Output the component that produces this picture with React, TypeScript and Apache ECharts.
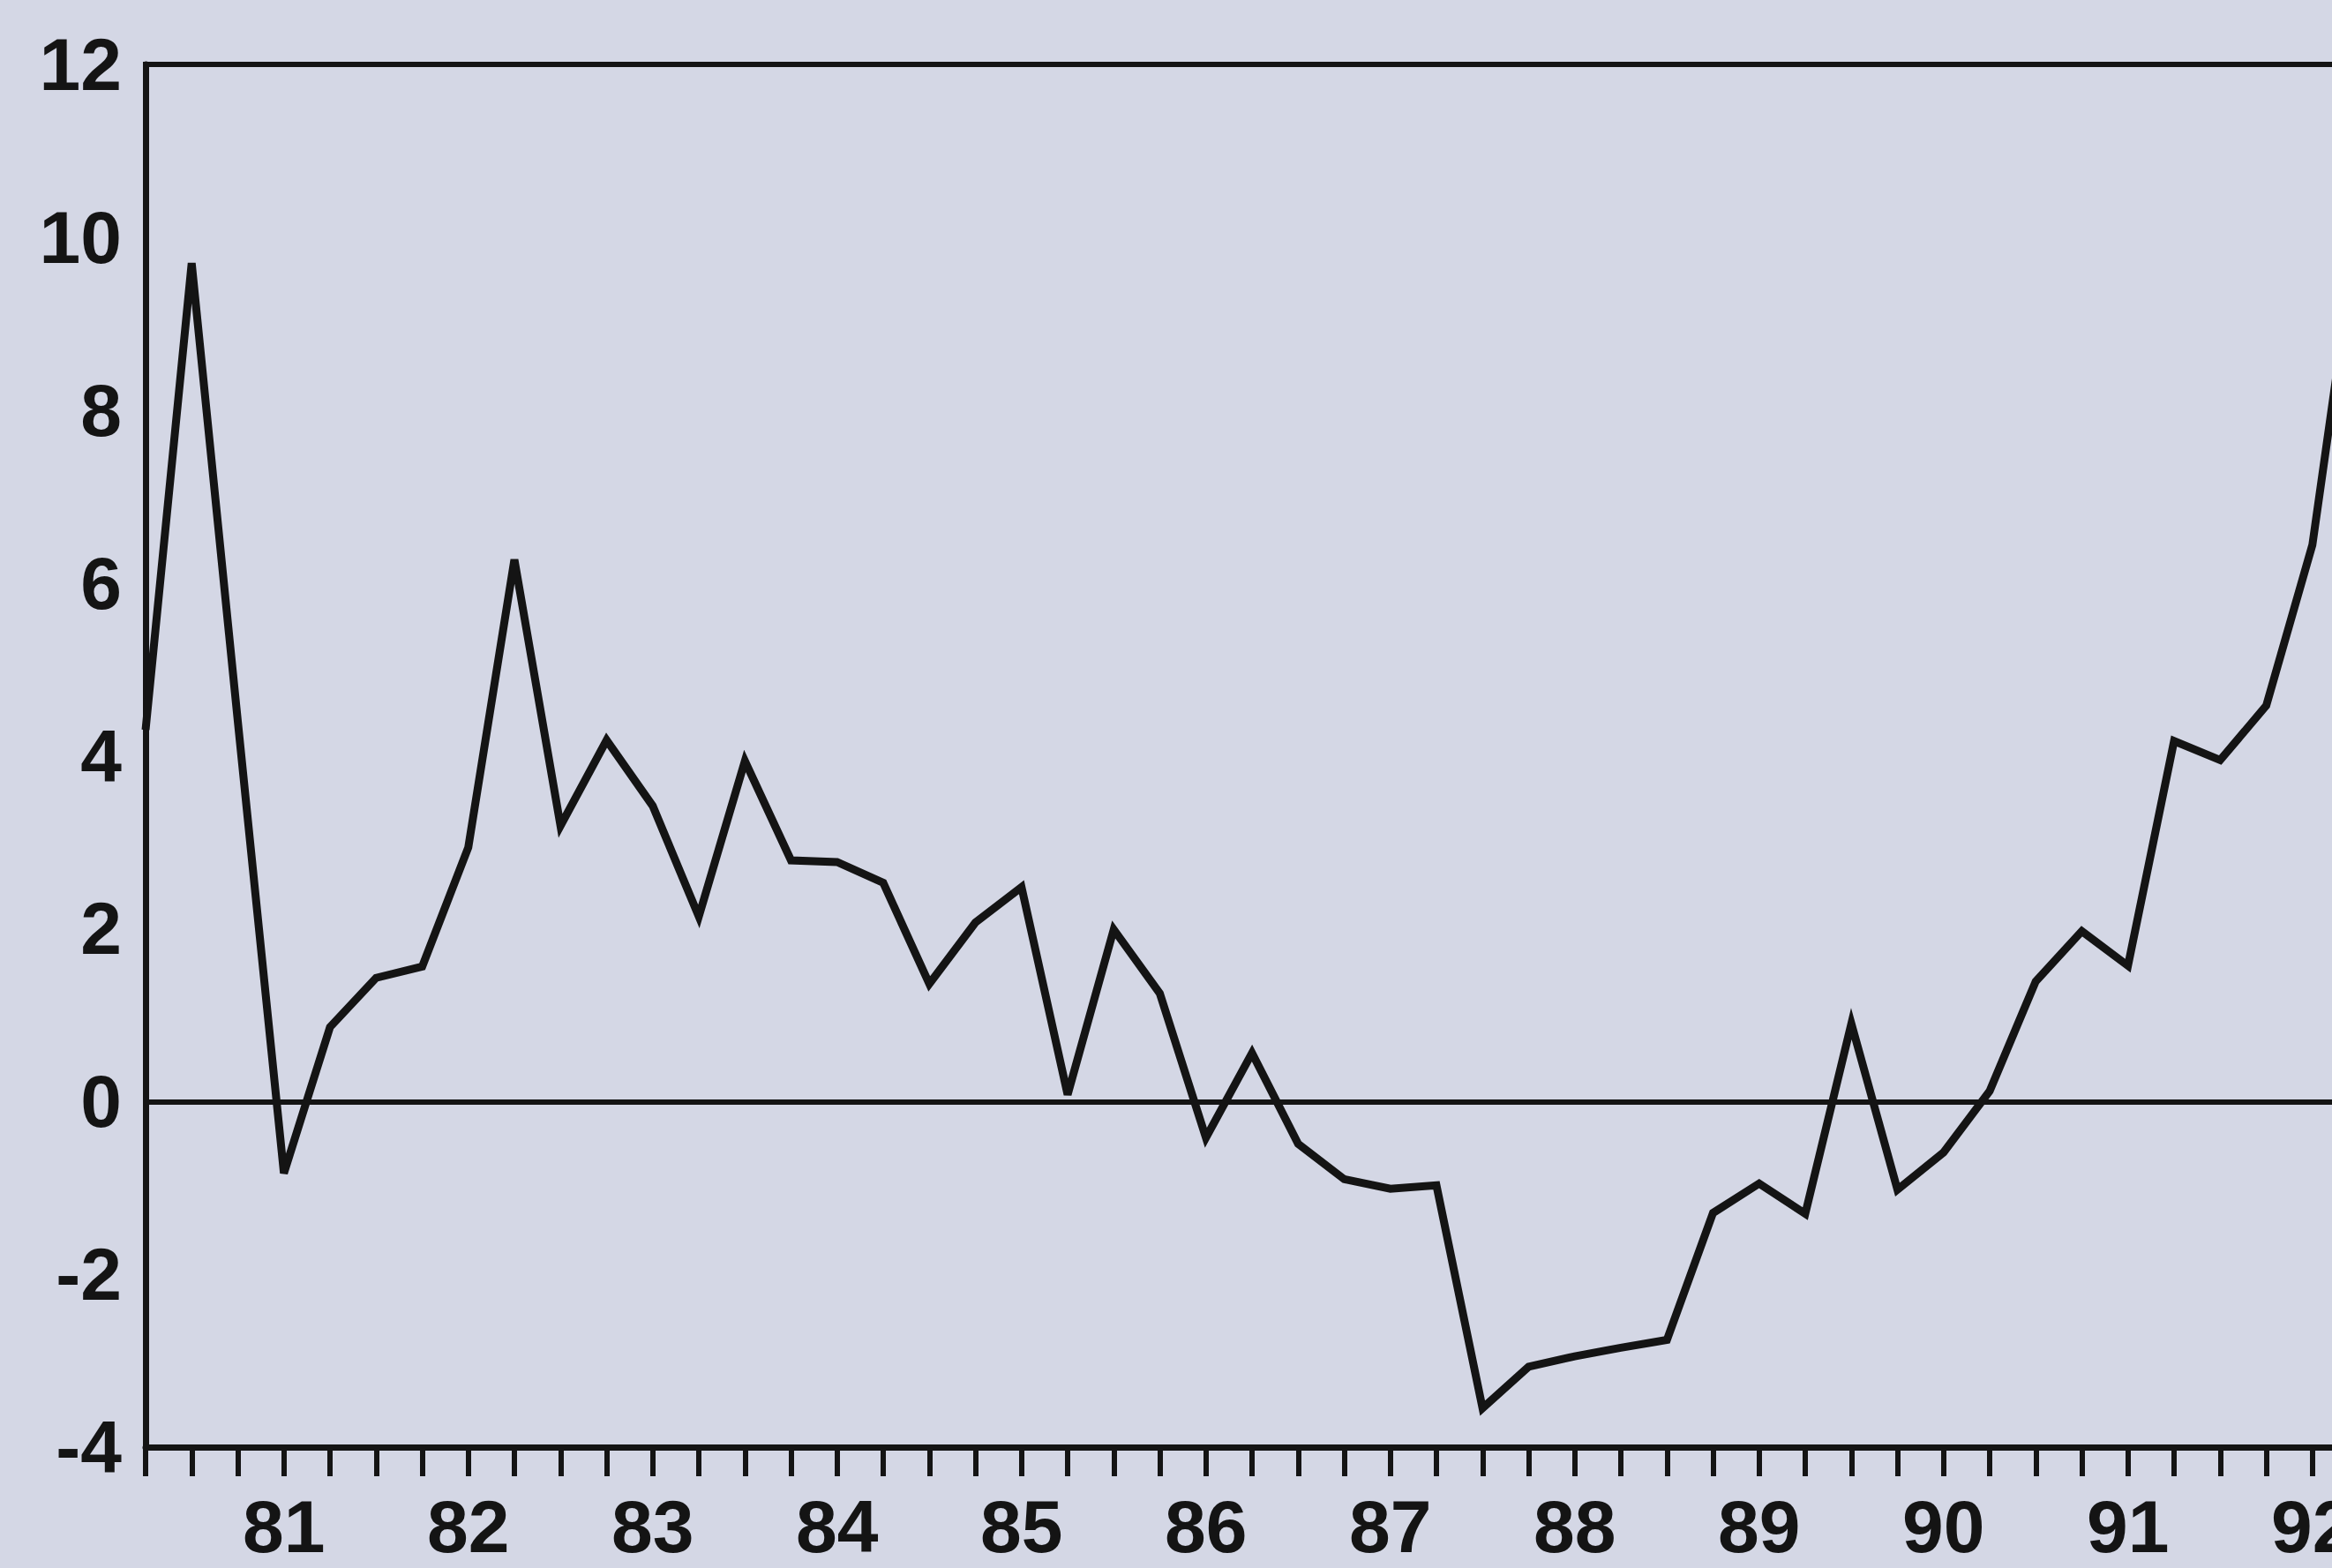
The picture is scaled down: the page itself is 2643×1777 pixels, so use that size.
import React, { useEffect, useRef } from "react";
import * as echarts from "echarts";

// Quarterly categories (first point = 80Q2, year label shown at each Q1)
const quarters: string[] = [
  "80Q2", "80Q3", "80Q4",
  "81Q1", "81Q2", "81Q3", "81Q4",
  "82Q1", "82Q2", "82Q3", "82Q4",
  "83Q1", "83Q2", "83Q3", "83Q4",
  "84Q1", "84Q2", "84Q3", "84Q4",
  "85Q1", "85Q2", "85Q3", "85Q4",
  "86Q1", "86Q2", "86Q3", "86Q4",
  "87Q1", "87Q2", "87Q3", "87Q4",
  "88Q1", "88Q2", "88Q3", "88Q4",
  "89Q1", "89Q2", "89Q3", "89Q4",
  "90Q1", "90Q2", "90Q3", "90Q4",
  "91Q1", "91Q2", "91Q3", "91Q4",
  "92Q1", "92Q2",
];

const values: number[] = [
  4.3, 9.7, 4.4,
  -0.83, 0.86, 1.43, 1.56,
  2.94, 6.27, 3.19, 4.18,
  3.42, 2.14, 3.94, 2.79,
  2.77, 2.53, 1.36, 2.07,
  2.48, 0.08, 1.99, 1.25,
  -0.42, 0.56, -0.49, -0.9,
  -1.01, -0.97, -3.55, -3.07,
  -2.95, -2.85, -2.76, -1.29,
  -0.95, -1.3, 0.9, -1.02,
  -0.59, 0.12, 1.39, 1.97,
  1.57, 4.17, 3.95, 4.58,
  6.44, 10.2,
];

const yearLabels: Record<string, string> = {
  "81Q1": "81", "82Q1": "82", "83Q1": "83", "84Q1": "84",
  "85Q1": "85", "86Q1": "86", "87Q1": "87", "88Q1": "88",
  "89Q1": "89", "90Q1": "90", "91Q1": "91", "92Q1": "92",
};

const yMin = -4;
const yMax = 12;
const yStep = 2;

const INK = "#141414";
const BG = "#d4d7e5";
const FONT = "'Liberation Sans', Arial, Helvetica, sans-serif";

export default function App() {
  const ref = useRef<HTMLDivElement>(null);

  useEffect(() => {
    if (!ref.current) return;
    const chart = echarts.init(ref.current, null, { renderer: "svg" });
    chart.setOption({
      animation: false,
      backgroundColor: BG,
      grid: {
        left: 165,
        width: 2508,
        top: 73,
        bottom: 137,
        outerBoundsMode: "none",
        containLabel: false,
        show: true,
        borderColor: INK,
        borderWidth: 6,
        backgroundColor: "transparent",
      },
      xAxis: {
        type: "category",
        data: quarters,
        boundaryGap: false,
        axisLine: { show: true, onZero: false, lineStyle: { color: INK, width: 7 } },
        axisTick: {
          show: true,
          interval: 0,
          inside: false,
          length: 33,
          lineStyle: { color: INK, width: 6 },
        },
        axisLabel: {
          interval: 0,
          margin: 50,
          lineHeight: 80,
          color: INK,
          fontFamily: FONT,
          fontWeight: "bold",
          fontSize: 84,
          formatter: (v: string) => yearLabels[v] ?? "",
        },
        splitLine: { show: false },
      },
      yAxis: {
        type: "value",
        min: yMin,
        max: yMax,
        interval: yStep,
        axisLine: { show: true, lineStyle: { color: INK, width: 7 } },
        axisTick: { show: false },
        splitLine: { show: false },
        axisLabel: {
          margin: 27,
          color: INK,
          fontFamily: FONT,
          fontWeight: "bold",
          fontSize: 84,
          padding: [12, 0, 0, 0],
        },
      },
      series: [
        {
          type: "line",
          data: values,
          symbol: "none",
          lineStyle: { color: INK, width: 9, join: "miter" },
          markLine: {
            silent: true,
            symbol: ["none", "none"],
            label: { show: false },
            lineStyle: { color: INK, width: 6, type: "solid" },
            data: [{ yAxis: 0 }],
          },
        },
      ],
    });
    return () => chart.dispose();
  }, []);

  return (
    <div
      ref={ref}
      style={{
        position: "fixed",
        left: 0,
        top: 0,
        width: 2643,
        height: 1777,
        overflow: "hidden",
      }}
    />
  );
}
